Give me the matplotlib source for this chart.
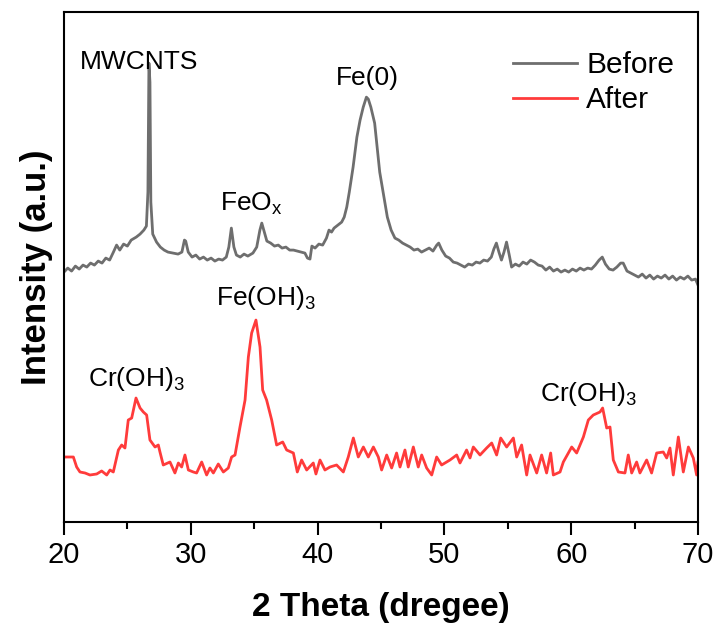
import matplotlib
matplotlib.use("Agg")
import matplotlib.pyplot as plt
from matplotlib.ticker import MultipleLocator

plt.rcParams['font.family'] = ['Liberation Sans', 'DejaVu Sans']
plt.rcParams['mathtext.default'] = 'regular'

# XRD pattern of the sample before Cr adsorption
before_theta = [20.0, 20.3, 20.6, 20.9, 21.2, 21.5, 21.8, 22.1, 22.4, 22.7, 23.0, 23.3, 23.6, 23.9,
                24.15, 24.4, 24.7, 25.0, 25.3, 25.7, 26.0, 26.3, 26.5, 26.62, 26.7, 26.78, 26.85,
                27.0, 27.3, 27.6, 27.9, 28.2, 28.6, 29.0, 29.3, 29.5, 29.6, 29.8, 30.1, 30.4, 30.7,
                31.0, 31.3, 31.6, 31.9, 32.2, 32.5, 32.8, 33.0, 33.2, 33.4, 33.6, 33.9, 34.2, 34.5,
                34.9, 35.2, 35.45, 35.6, 35.8, 36.0, 36.3, 36.6, 36.9, 37.2, 37.5, 37.8, 38.1, 38.4,
                38.7, 39.0, 39.2, 39.4, 39.55, 39.8, 40.1, 40.4, 40.7, 40.9, 41.1, 41.3, 41.6, 41.9,
                42.1, 42.3, 42.5, 42.8, 43.1, 43.35, 43.6, 43.85, 44.0, 44.2, 44.5, 44.9, 45.1, 45.3,
                45.5, 45.8, 46.1, 46.4, 46.7, 47.0, 47.3, 47.6, 47.9, 48.2, 48.5, 48.8, 49.1, 49.4,
                49.55, 49.8, 50.1, 50.4, 50.7, 51.0, 51.3, 51.6, 51.9, 52.2, 52.5, 52.8, 53.1, 53.4,
                53.7, 53.9, 54.1, 54.3, 54.5, 54.7, 54.9, 55.1, 55.3, 55.6, 55.9, 56.2, 56.5, 56.8,
                57.1, 57.4, 57.7, 58.0, 58.3, 58.6, 58.9, 59.2, 59.5, 59.8, 60.1, 60.4, 60.7, 61.0,
                61.3, 61.6, 61.9, 62.2, 62.45, 62.7, 63.0, 63.3, 63.6, 63.9, 64.1, 64.4, 64.7, 65.0,
                65.3, 65.6, 65.9, 66.2, 66.5, 66.8, 67.1, 67.4, 67.7, 68.0, 68.3, 68.6, 68.9, 69.2,
                69.5, 69.8, 70.0]
before_int = [250, 254, 251, 256, 253, 257, 255, 259, 257, 261, 259, 264, 262, 270,
              277, 272, 278, 276, 282, 285, 288, 292, 296, 330, 459, 440, 320,
              288, 280, 275, 272, 270, 269, 268, 270, 282, 281, 270, 265, 267, 263,
              265, 262, 264, 261, 263, 262, 265, 275, 294, 275, 267, 265, 268, 266,
              269, 275, 292, 299, 290, 281, 279, 276, 277, 274, 275, 272, 272, 271,
              270, 269, 264, 263, 276, 274, 278, 277, 284, 292, 290, 294, 297, 300,
              305, 315, 330, 355, 385, 402, 415, 425, 423, 415, 399, 350, 335, 320,
              305, 292, 284, 282, 279, 277, 275, 272, 273, 270, 272, 274, 271, 277,
              279, 272, 266, 264, 260, 259, 257, 255, 258, 257, 260, 259, 262, 261,
              265, 273, 279, 270, 262, 270, 280, 268, 255, 258, 256, 260, 258, 262,
              260, 257, 256, 252, 255, 251, 253, 250, 252, 250, 253, 251, 254, 252,
              254, 253, 257, 262, 265, 258, 253, 252, 255, 259, 259, 251, 249, 247,
              245, 248, 244, 247, 243, 246, 244, 247, 243, 246, 242, 245, 243, 246,
              242, 243, 237]

# XRD pattern after Cr adsorption
after_theta = [20.08, 20.74, 21.0, 21.26, 21.66, 22.05, 22.58, 22.97, 23.37, 23.63, 23.89, 24.29,
               24.55, 24.81, 25.07, 25.34, 25.68, 26.0, 26.26, 26.52, 26.78, 27.18, 27.44, 27.57,
               27.83, 28.36, 28.75, 29.02, 29.28, 29.54, 29.81, 30.2, 30.46, 30.86, 31.25, 31.51,
               31.78, 32.17, 32.57, 32.96, 33.22, 33.49, 33.88, 34.28, 34.54, 34.8, 35.14, 35.46,
               35.67, 35.98, 36.38, 36.77, 37.25, 37.56, 38.09, 38.4, 38.74, 39.14, 39.66, 39.87,
               40.19, 40.58, 40.98, 41.5, 42.03, 42.42, 42.82, 43.21, 43.61, 44.0, 44.4, 44.79,
               45.05, 45.45, 45.84, 46.23, 46.5, 46.89, 47.15, 47.55, 47.94, 48.21, 48.6, 49.0,
               49.39, 49.78, 50.44, 50.97, 51.23, 51.75, 52.02, 52.28, 52.81, 53.33, 53.73, 54.12,
               54.44, 54.91, 55.44, 55.7, 56.09, 56.49, 56.75, 57.28, 57.67, 58.06, 58.38, 58.59,
               59.12, 59.38, 60.04, 60.43, 60.96, 61.35, 61.74, 62.27, 62.48, 62.8, 63.06, 63.32,
               63.72, 64.24, 64.5, 64.77, 65.16, 65.42, 65.95, 66.34, 66.74, 67.26, 67.53, 67.79,
               68.05, 68.45, 68.84, 69.24, 69.63, 69.89, 70.0]
after_int = [65, 65, 55, 50, 49, 47, 48, 51, 47, 52, 50, 72,
             77, 74, 102, 104, 124, 114, 110, 107, 82, 75, 77, 70,
             57, 60, 49, 59, 55, 67, 52, 50, 49, 60, 47, 54,
             49, 58, 50, 54, 65, 67, 95, 122, 165, 189, 202, 175,
             132, 122, 102, 77, 80, 72, 69, 50, 62, 52, 59, 48,
             62, 52, 55, 57, 50, 65, 84, 65, 75, 65, 75, 65,
             52, 67, 54, 69, 55, 72, 55, 75, 55, 67, 54, 47,
             65, 57, 62, 67, 59, 72, 64, 75, 67, 74, 79, 67,
             84, 75, 84, 65, 77, 47, 67, 49, 67, 49, 69, 47,
             50, 60, 75, 69, 85, 102, 107, 110, 114, 94, 95, 62,
             50, 49, 67, 49, 60, 49, 62, 49, 69, 70, 64, 74,
             47, 85, 50, 75, 64, 47, 60]

fig = plt.figure(figsize=(7.14, 6.24), dpi=100)
ax = fig.add_axes([0.0896, 0.1635, 0.888, 0.817])

ax.plot(before_theta, before_int, color='#6e6e6e', lw=2.0, label='Before')
ax.plot(after_theta, after_int, color='#ff3b3b', lw=2.0, label='After')

ax.set_xlim(20, 70)
ax.set_ylim(0, 510)
ax.xaxis.set_major_locator(MultipleLocator(10))
ax.xaxis.set_minor_locator(MultipleLocator(5))
ax.set_yticks([])
ax.tick_params(axis='x', which='major', direction='out', length=9, width=1.5, labelsize=21, pad=5)
ax.tick_params(axis='x', which='minor', direction='out', length=5, width=1.5)
for s in ax.spines.values():
    s.set_linewidth(1.5)

ax.set_xlabel('2 Theta (dregee)', fontsize=24, fontweight='bold', labelpad=16)
ax.set_ylabel('Intensity (a.u.)', fontsize=25, fontweight='bold', labelpad=8)

# peak labels
ax.text(25.9, 460, 'MWCNTS', fontsize=19, ha='center', va='center')
ax.text(43.9, 444, 'Fe(0)', fontsize=19, ha='center', va='center')
ax.text(34.8, 318, 'FeO$_x$', fontsize=19, ha='center', va='center')
ax.text(35.9, 224, 'Fe(OH)$_3$', fontsize=19, ha='center', va='center')
ax.text(25.7, 143, 'Cr(OH)$_3$', fontsize=19, ha='center', va='center')
ax.text(61.35, 128, 'Cr(OH)$_3$', fontsize=19, ha='center', va='center')

ax.legend(loc='upper right', frameon=False, fontsize=21.5, handlelength=2.15,
          handletextpad=0.3, labelspacing=0.25, borderaxespad=0.9,
          bbox_to_anchor=(1.024, 1.0))

fig.savefig('out.png', dpi=100)
